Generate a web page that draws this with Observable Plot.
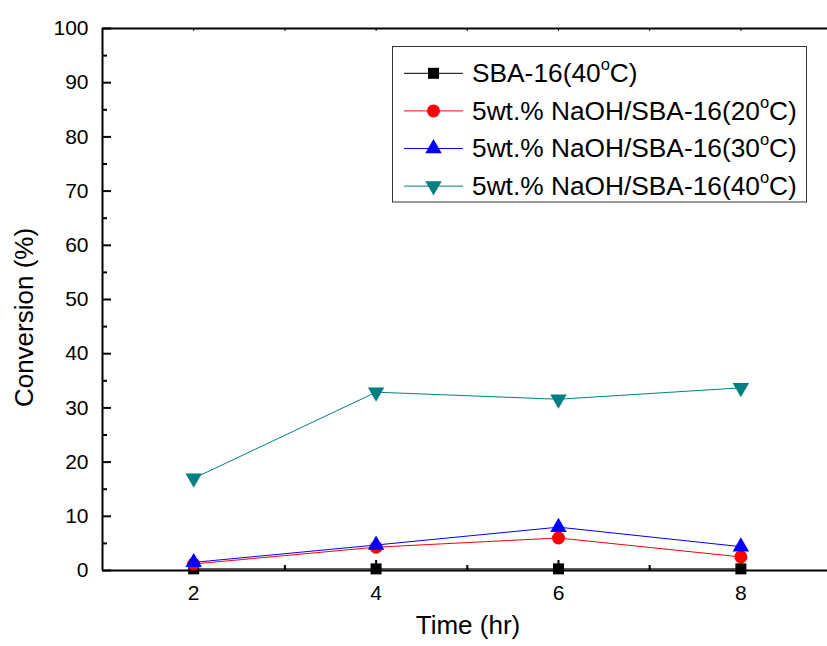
<!DOCTYPE html>
<html>
<head>
<meta charset="utf-8">
<script src="https://cdn.jsdelivr.net/npm/d3@7"></script>
<script src="https://cdn.jsdelivr.net/npm/@observablehq/plot@0.6"></script>
<style>
  html, body { margin: 0; padding: 0; background: #fff; }
  svg { display: block; }
</style>
</head>
<body>
<div id="chart"></div>
<script>
// ---- data ----
const times = [2, 4, 6, 8];
const seriesNames = ["SBA-16(40°C)", "5wt.% NaOH/SBA-16(20°C)", "5wt.% NaOH/SBA-16(30°C)", "5wt.% NaOH/SBA-16(40°C)"];
const sba16_40 = [0.3, 0.3, 0.3, 0.3];
const naoh_20 = [1.2, 4.3, 6.0, 2.5];
const naoh_30 = [1.5, 4.7, 8.0, 4.4];
const naoh_40 = [17.0, 32.9, 31.6, 33.7];
const seriesColors = ["#000000", "#ff0000", "#0000ff", "#008080"];
const seriesSymbols = ["square", "circle", "triangle", "triangle"];
const seriesRotate = [0, 0, 0, 180];
const seriesR = [6.2, 6.5, 6.1, 6.1];
const yMajor = [0, 10, 20, 30, 40, 50, 60, 70, 80, 90, 100];
const yMinor = [5, 15, 25, 35, 45, 55, 65, 75, 85, 95];
const xMajor = [2, 4, 6, 8];
const xMinor = [3, 5, 7];
const xTop = [2, 3, 4, 5, 6, 7, 8];
const xLabel = "Time (hr)";
const yLabel = "Conversion (%)";

const allValues = [sba16_40, naoh_20, naoh_30, naoh_40];
const series = seriesNames.map((name, i) => ({
  name, color: seriesColors[i], symbol: seriesSymbols[i], rotate: seriesRotate[i], r: seriesR[i],
  rows: times.map((t, j) => ({time: t, value: allValues[i][j]}))
}));

const font = "'Liberation Sans', Arial, sans-serif";

const marks = [
  // frame lines
  Plot.ruleX([1], {stroke: "#000", strokeWidth: 2}),
  Plot.ruleY([0], {stroke: "#000", strokeWidth: 2}),
  Plot.ruleY([100], {stroke: "#000", strokeWidth: 2}),
  // y ticks
  Plot.axisY({ticks: yMajor, tickSize: -9, text: null, label: null, strokeWidth: 2}),
  Plot.axisY({ticks: yMinor, tickSize: -5, text: null, label: null, strokeWidth: 2}),
  Plot.axisY({ticks: yMajor, tickSize: 0, tickPadding: 14, fontSize: 21, label: null, tickFormat: d => String(d)}),
  // x ticks
  Plot.axisX({ticks: xMajor, tickSize: -10, text: null, label: null, strokeWidth: 2}),
  Plot.axisX({ticks: xMinor, tickSize: -5, text: null, label: null, strokeWidth: 2}),
  Plot.axisX({ticks: xMajor, tickSize: 0, tickPadding: 15, fontSize: 21, label: null, tickFormat: d => String(d)}),
  Plot.axisX({anchor: "top", ticks: xTop, tickSize: -2, text: null, label: null, strokeWidth: 1}),
  // axis titles
  Plot.text([yLabel], {frameAnchor: "left", textAnchor: "middle", dx: -78, dy: 18, rotate: -90, text: d => d, fontSize: 26, fill: "#000"}),
  Plot.text([xLabel], {frameAnchor: "bottom", textAnchor: "middle", dx: 3, dy: 63, text: d => d, fontSize: 26, fill: "#000"})
];

for (const s of series) {
  marks.push(Plot.line(s.rows, {x: "time", y: "value", stroke: s.color, strokeWidth: 1}));
  marks.push(Plot.dot(s.rows, {x: "time", y: "value", symbol: () => s.symbol, fill: s.color, stroke: "none", r: s.r, rotate: s.rotate}));
}

const svg = Plot.plot({
  width: 827,
  height: 646,
  marginLeft: 102,
  marginRight: 0,
  marginTop: 28,
  marginBottom: 76,
  style: {fontFamily: font, color: "#000", background: "#fff", overflow: "visible"},
  x: {domain: [1, 8.95]},
  y: {domain: [0, 100]},
  symbol: {type: "identity"},
  marks
});

// ---- legend ----
const lg = d3.select(svg).append("g").attr("font-family", font).attr("text-anchor", "start");
lg.append("rect")
  .attr("x", 392.5).attr("y", 46.5).attr("width", 414).attr("height", 155.5)
  .attr("fill", "#fff").attr("stroke", "#333").attr("stroke-width", 1);
const symbolMap = {square: d3.symbolSquare, circle: d3.symbolCircle, triangle: d3.symbolTriangle};
series.forEach((s, i) => {
  const cy = 73.3 + i * 37.6;
  lg.append("line").attr("x1", 404).attr("x2", 463).attr("y1", cy).attr("y2", cy)
    .attr("stroke", s.color).attr("stroke-width", 1);
  lg.append("path")
    .attr("d", d3.symbol(symbolMap[s.symbol], s.r * s.r * Math.PI)())
    .attr("transform", `translate(433.5,${cy}) rotate(${s.rotate})`)
    .attr("fill", s.color);
  const parts = s.name.split("°");
  const t = lg.append("text").attr("x", 472).attr("y", cy + 8.8).attr("font-size", 26.3)
    .attr("fill", "#000").attr("text-anchor", "start");
  t.append("tspan").text(parts[0]);
  t.append("tspan").attr("font-size", 16.5).attr("dy", -12).text("o");
  t.append("tspan").attr("dy", 12).text(parts[1]);
});

document.getElementById("chart").appendChild(svg);
</script>
</body>
</html>
